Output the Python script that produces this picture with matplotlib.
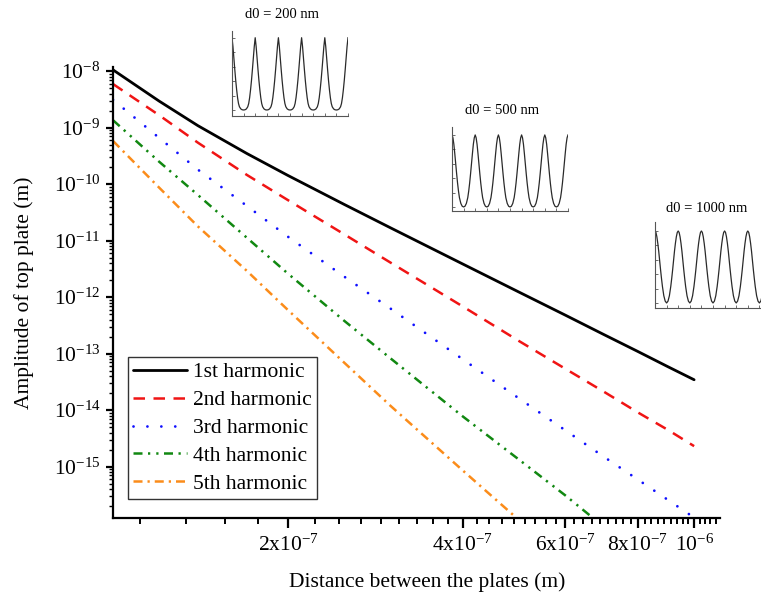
import numpy as np
import matplotlib
matplotlib.use('Agg')
import matplotlib.pyplot as plt
from matplotlib.ticker import FixedLocator, NullFormatter, LogLocator, LogFormatterMathtext, FixedFormatter

plt.rcParams['font.family'] = ['Liberation Serif', 'DejaVu Serif']
plt.rcParams['mathtext.fontset'] = 'custom'
plt.rcParams['mathtext.rm'] = 'Liberation Serif'
plt.rcParams['mathtext.it'] = 'Liberation Serif:italic'
plt.rcParams['mathtext.default'] = 'regular'

# ---------------- data ----------------
distance = [1.0e-7, 1.2e-7, 1.4e-7, 1.7e-7, 2.0e-7, 2.5e-7, 3.0e-7, 4.0e-7,
            5.0e-7, 6.0e-7, 7.0e-7, 8.0e-7, 9.0e-7, 1.0e-6]
harm1 = [1.05e-8, 2.95e-9, 1.08e-9, 3.47e-10, 1.42e-10, 4.36e-11, 1.69e-11, 3.84e-12,
         1.22e-12, 4.8e-13, 2.16e-13, 1.09e-13, 5.9e-14, 3.44e-14]
harm2 = [5.9e-9, 1.66e-9, 5.4e-10, 1.45e-10, 5.2e-11, 1.29e-11, 4.1e-12, 6.8e-13,
         1.66e-13, 5.4e-14, 2.1e-14, 9.1e-15, 4.5e-15, 2.3e-15]
harm3 = [3.1e-9, 6.6e-10, 1.8e-10, 4.1e-11, 1.17e-11, 2.3e-12, 6.3e-13, 7.9e-14,
         1.6e-14, 4.4e-15, 1.48e-15, 5.9e-16, 2.6e-16, 1.25e-16]
distance4 = [1.0e-7, 1.2e-7, 1.4e-7, 1.7e-7, 2.0e-7, 2.5e-7, 3.0e-7, 4.0e-7,
             5.0e-7, 6.0e-7, 6.7e-7]
harm4 = [1.35e-9, 2.5e-10, 6.4e-11, 1.12e-11, 2.6e-12, 3.8e-13, 8.3e-14, 7.7e-15,
         1.32e-15, 3.1e-16, 1.23e-16]
distance5 = [1.0e-7, 1.2e-7, 1.4e-7, 1.7e-7, 2.0e-7, 2.5e-7, 3.0e-7, 4.0e-7, 4.95e-7]
harm5 = [5.8e-10, 8.7e-11, 1.78e-11, 2.9e-12, 5.9e-13, 6.9e-14, 1.2e-14, 8.5e-16, 1.23e-16]

series_labels = ['1st harmonic', '2nd harmonic', '3rd harmonic', '4th harmonic', '5th harmonic']

x_tick_values = [2e-7, 4e-7, 6e-7, 8e-7, 1e-6]
x_tick_labels = ['2x10$^{-7}$', '4x10$^{-7}$', '6x10$^{-7}$', '8x10$^{-7}$', '10$^{-6}$']

# inset waveforms: half period from peak (phase 0) to trough (phase 0.5), normalised
phase_half = [0.0, 0.04, 0.08, 0.12, 0.16, 0.20, 0.24, 0.28, 0.32, 0.38, 0.44, 0.50]
wave_200 = [1.0, 0.88, 0.72, 0.56, 0.41, 0.28, 0.17, 0.09, 0.045, 0.015, 0.003, 0.0]
wave_500 = [1.0, 0.96, 0.87, 0.74, 0.60, 0.46, 0.33, 0.22, 0.13, 0.05, 0.01, 0.0]
wave_1000 = [1.0, 0.98, 0.92, 0.83, 0.72, 0.59, 0.46, 0.34, 0.23, 0.10, 0.025, 0.0]
inset_titles = ['d0 = 200 nm', 'd0 = 500 nm', 'd0 = 1000 nm']
n_periods = 5

# ---------------- figure ----------------
W, H = 761, 603
fig = plt.figure(figsize=(W / 100, H / 100), dpi=100)

def fx(px):
    return px / W

def fy(py):
    return 1 - py / H

ax_l, ax_r, ax_t, ax_b = 113, 720, 67, 518
ax = fig.add_axes([fx(ax_l), fy(ax_b), (ax_r - ax_l) / W, (ax_b - ax_t) / H])

lw = 1.8
ax.plot(distance, harm1, color='black', lw=2.0, solid_capstyle='round', label=series_labels[0])
ax.plot(distance, harm2, color='#f01414', lw=lw, dashes=(4.6, 3.4), label=series_labels[1])
ax.plot(distance, harm3, color='#1010ff', lw=2.0, dashes=(0.01, 5.0),
        dash_capstyle='round', label=series_labels[2])
ax.plot(distance4, harm4, color='#118811', lw=lw, dashes=(3.6, 2.2, 0.9, 2.4, 0.9, 2.2),
        label=series_labels[3])
ax.plot(distance5, harm5, color='#fb8c1a', lw=lw, dashes=(3.6, 2.0, 0.9, 2.0),
        label=series_labels[4])

ax.set_xscale('log')
ax.set_yscale('log')
ax.set_xlim(1e-7, 1.108e-6)
ax.set_ylim(1.23e-16, 1.18e-8)

for s in ['top', 'right']:
    ax.spines[s].set_visible(False)
for s in ['left', 'bottom']:
    ax.spines[s].set_linewidth(1.6)

# x ticks: linear-spaced majors / minors on log axis
ax.xaxis.set_major_locator(FixedLocator(x_tick_values))
ax.xaxis.set_major_formatter(FixedFormatter(x_tick_labels))
minor_x = [k * 2e-7 / 9 for k in range(1, 60)]
minor_x = [v for v in minor_x if 1e-7 < v < 1.108e-6 and
           min(abs(v - m) for m in x_tick_values) > 1e-9]
ax.xaxis.set_minor_locator(FixedLocator(minor_x))
ax.xaxis.set_minor_formatter(NullFormatter())

ax.yaxis.set_major_locator(LogLocator(base=10, numticks=20))
ax.yaxis.set_major_formatter(LogFormatterMathtext())
ax.yaxis.set_minor_locator(LogLocator(base=10, subs=np.arange(2, 10), numticks=100))
ax.yaxis.set_minor_formatter(NullFormatter())

ax.tick_params(axis='both', which='major', direction='out', width=1.6, labelsize=15.5, color='black')
ax.tick_params(axis='x', which='major', length=7, pad=5)
ax.tick_params(axis='x', which='minor', length=4, width=1.4, direction='out')
ax.tick_params(axis='y', which='major', length=5, pad=4)
ax.tick_params(axis='y', which='minor', length=3, width=1.0, direction='out')

ax.set_xlabel('Distance between the plates (m)', fontsize=15.5)
ax.xaxis.set_label_coords((427 - ax_l) / (ax_r - ax_l), -(572 - ax_b) / (ax_b - ax_t))
ax.set_ylabel('Amplitude of top plate (m)', fontsize=15.5)
ax.yaxis.set_label_coords(-(113 - 34) / (ax_r - ax_l), 0.5)

leg = ax.legend(loc='upper left', bbox_to_anchor=((128 - ax_l) / (ax_r - ax_l), (ax_b - 357) / (ax_b - ax_t)),
                borderaxespad=0, fontsize=15.5, frameon=True, fancybox=False, framealpha=1,
                edgecolor='#333333', handlelength=2.5, handletextpad=0.25, labelspacing=0.36,
                borderpad=0.25)
leg.get_frame().set_linewidth(1.0)

# ---------------- insets ----------------
half_x = np.array(phase_half)
def full_wave(half_vals):
    hv = np.array(half_vals)
    xs, ys = [], []
    one_x = np.concatenate([half_x, 1 - half_x[-2::-1]])
    one_y = np.concatenate([hv, hv[-2::-1]])
    for k in range(n_periods):
        xs.append(one_x + k)
        ys.append(one_y)
    return np.concatenate(xs), np.concatenate(ys)

inset_specs = [
    (wave_200, (232, 348, 31, 116), (-0.083, 1.093), (282, 14)),
    (wave_500, (452, 568, 127, 211), (-0.056, 1.11), (502, 110)),
    (wave_1000, (655, 771, 222, 308), (-0.07, 1.125), (707, 209)),
]
for (wave, (l, r, t, b), ylim, (tx, ty)), title in zip(inset_specs, inset_titles):
    iax = fig.add_axes([fx(l), fy(b), (r - l) / W, (b - t) / H])
    xs, ys = full_wave(wave)
    iax.plot(xs, ys, color='#2a2a2a', lw=0.9)
    iax.set_xlim(0, n_periods)
    iax.set_ylim(*ylim)
    for s in ['top', 'right']:
        iax.spines[s].set_visible(False)
    for s in ['left', 'bottom']:
        iax.spines[s].set_linewidth(0.8)
        iax.spines[s].set_color('#555555')
    iax.set_xticks(np.arange(0, n_periods + 0.01, 0.5))
    iax.set_yticks(np.linspace(0, 1, 6))
    iax.tick_params(direction='in', length=2, width=0.6, color='#555555',
                    labelbottom=False, labelleft=False)
    iax.patch.set_alpha(0)
    fig.text(fx(tx), fy(ty), title, ha='center', va='center', fontsize=10.5)

fig.savefig('out.png', dpi=100)
